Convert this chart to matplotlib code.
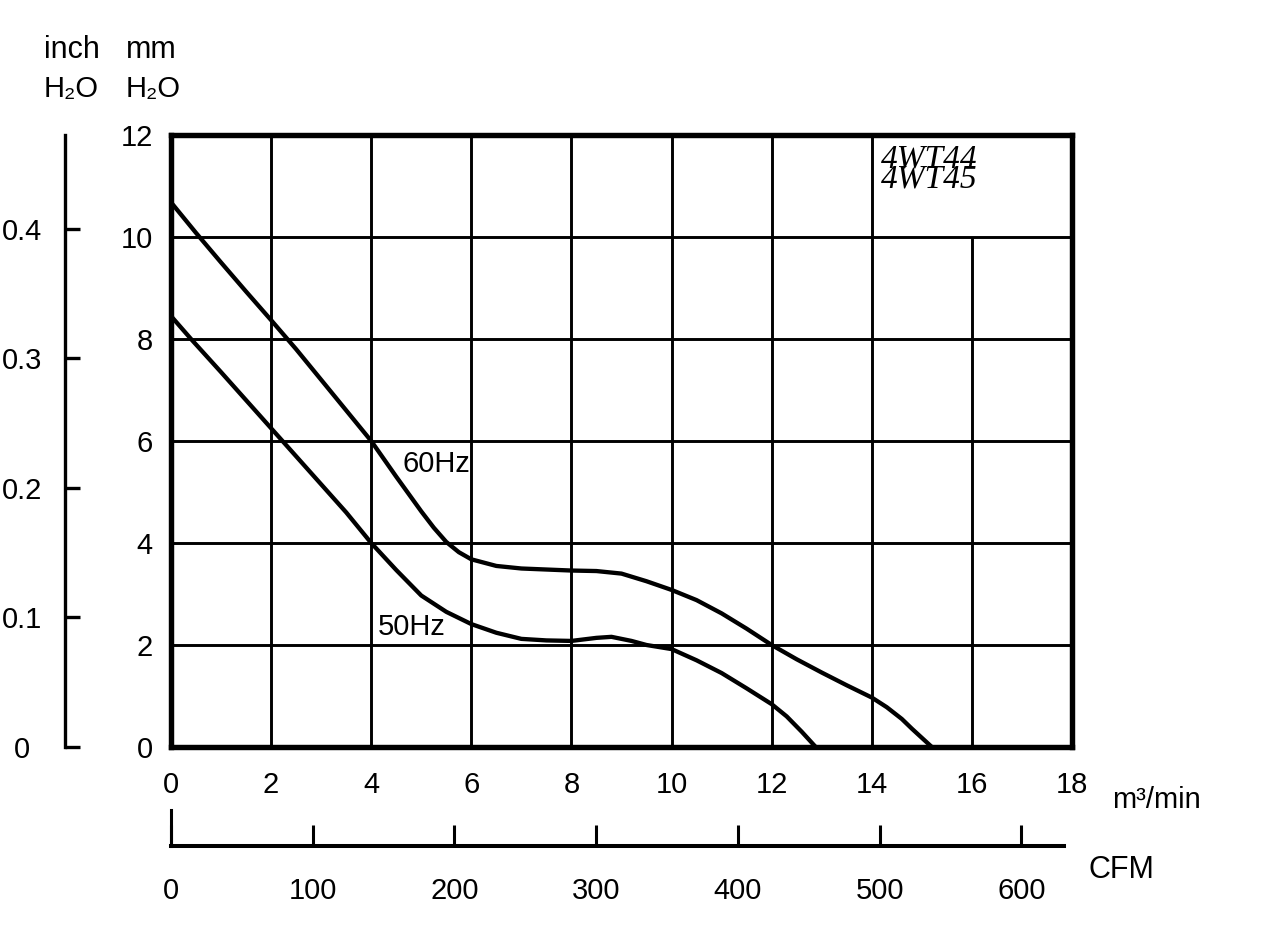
import numpy as np
import matplotlib
matplotlib.use('Agg')
import matplotlib.pyplot as plt

plt.rcParams['font.family'] = ['Liberation Sans', 'DejaVu Sans']

# airflow (m3/min) vs static pressure (mm H2O)
flow_60 = [0, 0.5, 1, 1.5, 2, 2.5, 3, 3.5, 4, 4.5, 5, 5.25, 5.5, 5.75, 6,
           6.5, 7, 7.5, 8, 8.5, 9, 9.5, 10, 10.5, 11, 11.5, 12, 12.5, 13,
           13.5, 14, 14.3, 14.6, 14.8, 15.0, 15.2]
pres_60 = [10.68, 10.08, 9.5, 8.93, 8.37, 7.8, 7.2, 6.6, 6.0, 5.3, 4.62, 4.3,
           4.02, 3.82, 3.68, 3.55, 3.5, 3.48, 3.46, 3.45, 3.4, 3.25, 3.08,
           2.88, 2.62, 2.32, 2.0, 1.72, 1.46, 1.21, 0.97, 0.78, 0.55, 0.36,
           0.18, 0.0]

flow_50 = [0, 0.4, 1, 1.5, 2, 2.5, 3, 3.5, 4, 4.5, 5, 5.5, 6, 6.5, 7, 7.5, 8,
           8.5, 8.8, 9.2, 9.5, 10, 10.5, 11, 11.5, 12, 12.3, 12.6, 12.88]
pres_50 = [8.45, 8.0, 7.35, 6.8, 6.25, 5.7, 5.15, 4.6, 4.0, 3.47, 2.97, 2.65,
           2.41, 2.24, 2.12, 2.09, 2.08, 2.14, 2.16, 2.08, 2.0, 1.92, 1.7,
           1.45, 1.15, 0.84, 0.6, 0.3, 0.0]

x_ticks = [0, 2, 4, 6, 8, 10, 12, 14, 16, 18]
y_ticks = [0, 2, 4, 6, 8, 10, 12]
grid_tops = [12, 12, 12, 12, 12, 12, 12, 12, 10, 12]   # 16 line stops at 10
inch_ticks = [0, 0.1, 0.2, 0.3, 0.4]
inch_labels = ['0', '0.1', '0.2', '0.3', '0.4']
cfm_ticks = [0, 100, 200, 300, 400, 500, 600]
model_note = '4WT44\n4WT45'

MM_PER_INCH = 25.4
CFM_PER_M3MIN = 35.315
FS = 21

fig = plt.figure(figsize=(12.61, 9.5), dpi=100)
W, H = 1261.0, 950.0

def px_box(x0, y0, x1, y1):
    return [x0 / W, 1 - y1 / H, (x1 - x0) / W, (y1 - y0) / H]

# main chart
ax = fig.add_axes(px_box(171, 135, 1072, 747))
ax.set_xlim(0, 18)
ax.set_ylim(0, 12)
ax.vlines(x_ticks[1:-1], 0, grid_tops[1:-1], colors='black', lw=2.1)
ax.hlines(y_ticks[1:-1], 0, 18, colors='black', lw=2.1)
ax.plot(flow_60, pres_60, color='black', lw=3.1, solid_capstyle='butt',
        solid_joinstyle='round')
ax.plot(flow_50, pres_50, color='black', lw=3.1, solid_capstyle='butt',
        solid_joinstyle='round')
for s in ax.spines.values():
    s.set_linewidth(3.9)
ax.set_xticks(x_ticks)
ax.set_yticks(y_ticks)
ax.tick_params(axis='x', length=0, pad=17, labelsize=FS)
ax.tick_params(axis='y', length=0, pad=13, labelsize=FS)

ax.text(4.62, 5.55, '60Hz', fontsize=FS, va='center', ha='left')
ax.text(4.14, 2.35, '50Hz', fontsize=FS, va='center', ha='left')
ax.text(14.18, 11.33, model_note, fontsize=24, va='center', ha='left',
        family='Liberation Serif', style='italic', linespacing=0.55)

# inch H2O scale on the far left
ax_in = fig.add_axes(px_box(65, 135, 80, 747))
ax_in.set_ylim(0, 12 / MM_PER_INCH)
ax_in.set_xlim(0, 1)
ax_in.patch.set_visible(False)
for k in ['top', 'right', 'bottom']:
    ax_in.spines[k].set_visible(False)
ax_in.spines['left'].set_linewidth(2.4)
ax_in.set_xticks([])
ax_in.set_yticks(inch_ticks)
ax_in.set_yticklabels(inch_labels)
ax_in.tick_params(axis='y', direction='in', length=11, width=2.4, pad=31,
                  labelsize=FS)
for lbl in ax_in.get_yticklabels():
    lbl.set_horizontalalignment('center')

# CFM scale under the chart
ax_cfm = fig.add_axes(px_box(171, 810, 1072, 846))
ax_cfm.set_xlim(0, 18 * CFM_PER_M3MIN)
ax_cfm.set_ylim(0, 1)
ax_cfm.patch.set_visible(False)
for k in ['top', 'right']:
    ax_cfm.spines[k].set_visible(False)
ax_cfm.spines['bottom'].set_bounds(0, 630)
ax_cfm.spines['bottom'].set_linewidth(2.9)
ax_cfm.spines['left'].set_linewidth(2.2)
ax_cfm.set_yticks([])
ax_cfm.set_xticks(cfm_ticks)
ax_cfm.tick_params(axis='x', direction='in', length=15, width=2.2, pad=22,
                   labelsize=FS)

# unit labels
fig.text(72 / W, 1 - 50 / H, 'inch', fontsize=22, ha='center', va='center')
fig.text(71 / W, 1 - 89 / H, 'H₂O', fontsize=FS, ha='center', va='center')
fig.text(151 / W, 1 - 50 / H, 'mm', fontsize=22, ha='center', va='center')
fig.text(153 / W, 1 - 89 / H, 'H₂O', fontsize=FS, ha='center', va='center')
fig.text(1112 / W, 1 - 800 / H, 'm³/min', fontsize=21, ha='left', va='center')
fig.text(1089 / W, 1 - 870 / H, 'CFM', fontsize=22, ha='left', va='center')

fig.savefig('out.png', dpi=100, facecolor='white')
